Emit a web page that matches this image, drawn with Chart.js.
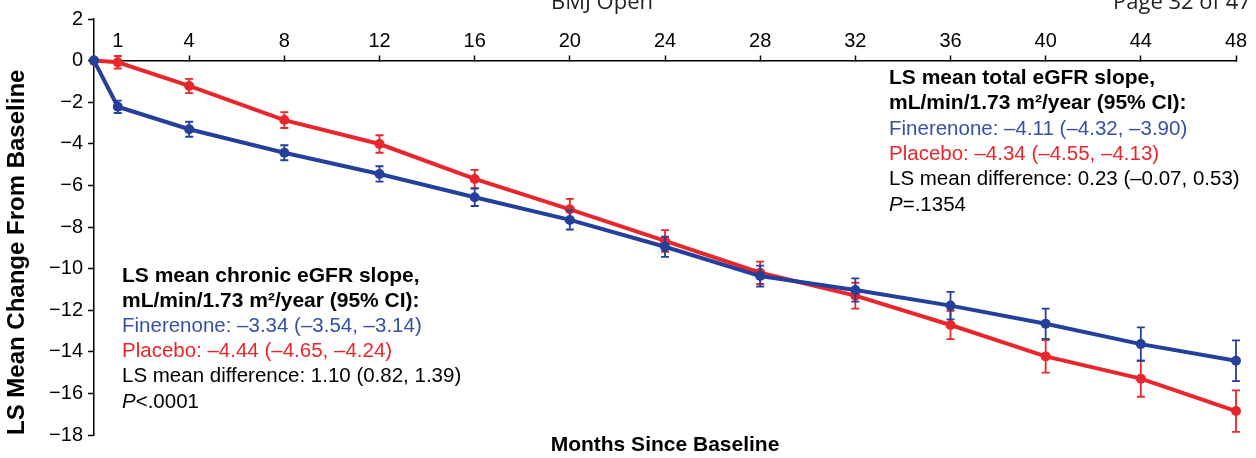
<!DOCTYPE html>
<html>
<head>
<meta charset="utf-8">
<title>eGFR change from baseline</title>
<script src="https://cdn.jsdelivr.net/npm/chart.js@4.4.1/dist/chart.umd.min.js"></script>
<style>
  html, body { margin: 0; padding: 0; background: #fff; }
  #wrap { width: 1256px; height: 458px; position: relative; }
</style>
</head>
<body>
<div id="wrap"><canvas id="egfrChart"></canvas></div>
<script>
// data (LS mean change, half-width of 95% CI)
const months = [0, 1, 4, 8, 12, 16, 20, 24, 28, 32, 36, 40, 44, 48];
const monthTicks = [1, 4, 8, 12, 16, 20, 24, 28, 32, 36, 40, 44, 48];
const fineMean = [0, -2.22, -3.30, -4.43, -5.45, -6.57, -7.66, -8.95, -10.36, -11.03, -11.78, -12.65, -13.63, -14.43];
const fineErr  = [0, 0.30, 0.36, 0.36, 0.37, 0.42, 0.46, 0.49, 0.50, 0.56, 0.66, 0.73, 0.80, 0.98];
const placMean = [0, -0.08, -1.22, -2.86, -4.01, -5.69, -7.15, -8.67, -10.20, -11.30, -12.71, -14.22, -15.29, -16.85];
const placErr  = [0, 0.30, 0.34, 0.38, 0.42, 0.44, 0.50, 0.52, 0.54, 0.62, 0.68, 0.78, 0.87, 1.00];

const BLUE = '#24409a';
const RED = '#e8262b';
const BLUE_TXT = '#3551a6';
const FONT = '"Liberation Sans", Arial, Helvetica, sans-serif';

// text blocks: each line is a list of [text, style, colour]
const totalSlopeText = [
  [['LS mean total eGFR slope,', 'bold', '#000']],
  [['mL/min/1.73 m²/year (95% CI):', 'bold', '#000']],
  [['Finerenone: –4.11 (–4.32, –3.90)', 'normal', BLUE_TXT]],
  [['Placebo: –4.34 (–4.55, –4.13)', 'normal', RED]],
  [['LS mean difference: 0.23 (–0.07, 0.53)', 'normal', '#000']],
  [['P', 'italic', '#000'], ['=.1354', 'normal', '#000']]
];
const chronicSlopeText = [
  [['LS mean chronic eGFR slope,', 'bold', '#000']],
  [['mL/min/1.73 m²/year (95% CI):', 'bold', '#000']],
  [['Finerenone: –3.34 (–3.54, –3.14)', 'normal', BLUE_TXT]],
  [['Placebo: –4.44 (–4.65, –4.24)', 'normal', RED]],
  [['LS mean difference: 1.10 (0.82, 1.39)', 'normal', '#000']],
  [['P', 'italic', '#000'], ['<.0001', 'normal', '#000']]
];

function drawBlock(ctx, lines, x, y, step) {
  lines.forEach((segs, li) => {
    let cx = x;
    segs.forEach(([txt, style, color]) => {
      const size = style === 'bold' ? 21 : 20.5;
      ctx.font = `${style} ${size}px ${FONT}`;
      ctx.fillStyle = color;
      ctx.fillText(txt, cx, y + li * step);
      cx += ctx.measureText(txt).width;
    });
  });
}

// vertical CI bars drawn right after each series so the top series covers the one below
const errorBars = {
  id: 'errorBars',
  afterDatasetDraw(chart, args) {
    const ds = chart.data.datasets[args.index];
    const {ctx, scales: {x, y}} = chart;
    ctx.save();
    ctx.strokeStyle = ds.borderColor;
    ctx.lineWidth = 1.8;
    ds.ci.forEach((e, i) => {
      if (!e) return;
      const px = x.getPixelForValue(months[i]);
      const top = y.getPixelForValue(ds.mean[i] + e);
      const bot = y.getPixelForValue(ds.mean[i] - e);
      ctx.beginPath();
      ctx.moveTo(px, top); ctx.lineTo(px, bot);
      ctx.moveTo(px - 4, top); ctx.lineTo(px + 4, top);
      ctx.moveTo(px - 4, bot); ctx.lineTo(px + 4, bot);
      ctx.stroke();
    });
    ctx.restore();
  }
};

const annotations = {
  id: 'annotations',
  afterDraw(chart) {
    const ctx = chart.ctx;
    ctx.save();
    ctx.textBaseline = 'alphabetic';
    ctx.textAlign = 'left';
    drawBlock(ctx, totalSlopeText, 889, 84, 25.3);
    drawBlock(ctx, chronicSlopeText, 122, 282, 25.1);
    // page header, cut off at the top edge
    ctx.font = `22px "Open Sans", ${FONT}`;
    ctx.fillStyle = '#231f20';
    ctx.textAlign = 'center';
    ctx.fillText('BMJ Open', 602, 9);
    ctx.textAlign = 'left';
    ctx.fillText('Page 32 of 47', 1113, 9);
    ctx.restore();
  }
};

const ctx = document.getElementById('egfrChart').getContext('2d');
new Chart(ctx, {
  type: 'line',
  data: {
    datasets: [
      {
        label: 'Finerenone',
        data: months.map((m, i) => ({x: m, y: fineMean[i]})),
        mean: fineMean,
        ci: fineErr,
        borderColor: BLUE,
        backgroundColor: BLUE,
        borderWidth: 4,
        pointRadius: 5,
        pointBorderWidth: 0,
        tension: 0,
        clip: false
      },
      {
        label: 'Placebo',
        data: months.map((m, i) => ({x: m, y: placMean[i]})),
        mean: placMean,
        ci: placErr,
        borderColor: RED,
        backgroundColor: RED,
        borderWidth: 4,
        pointRadius: 5,
        pointBorderWidth: 0,
        tension: 0,
        clip: false
      }
    ]
  },
  options: {
    responsive: true,
    maintainAspectRatio: false,
    animation: false,
    devicePixelRatio: 1,
    layout: { padding: { top: 19, right: 20, bottom: 0, left: 0 } },
    plugins: {
      legend: { display: false },
      tooltip: { enabled: false }
    },
    scales: {
      x: {
        type: 'linear',
        position: { y: 0 },
        min: 0,
        max: 48,
        afterBuildTicks: s => { s.ticks = monthTicks.map(v => ({value: v})); },
        grid: { display: true, drawOnChartArea: false, drawTicks: true, tickLength: -6, tickColor: '#000', tickWidth: 1.5 },
        border: { display: true, color: '#000', width: 1.5 },
        ticks: {
          color: '#000',
          font: { family: FONT, size: 20 },
          padding: -25,
          maxRotation: 0,
          autoSkip: false,
          callback: v => String(v)
        }
      },
      xTitle: {
        type: 'linear',
        position: 'bottom',
        min: 0,
        max: 48,
        afterFit: s => { s.height = 23; },
        grid: { display: false, drawTicks: false },
        border: { display: false },
        ticks: { display: false },
        title: {
          display: true,
          text: 'Months Since Baseline',
          color: '#000',
          font: { family: FONT, size: 21, weight: 'bold' },
          padding: { top: 0, bottom: 0 }
        }
      },
      y: {
        type: 'linear',
        position: 'left',
        min: -18,
        max: 2,
        afterFit: s => { s.width = 94; },
        ticks: {
          stepSize: 2,
          color: '#000',
          padding: 5,
          font: { family: FONT, size: 20 },
          callback: v => v < 0 ? '−' + (-v) : String(v)
        },
        grid: { display: true, drawOnChartArea: false, drawTicks: true, tickLength: 6, tickColor: '#000', tickWidth: 1.5 },
        border: { display: true, color: '#000', width: 1.5 },
        title: {
          display: true,
          text: 'LS Mean Change From Baseline',
          align: 'start',
          color: '#000',
          font: { family: FONT, size: 24, weight: 'bold' },
          padding: { top: 3, bottom: 0 }
        }
      }
    }
  },
  plugins: [errorBars, annotations]
});
</script>
</body>
</html>
